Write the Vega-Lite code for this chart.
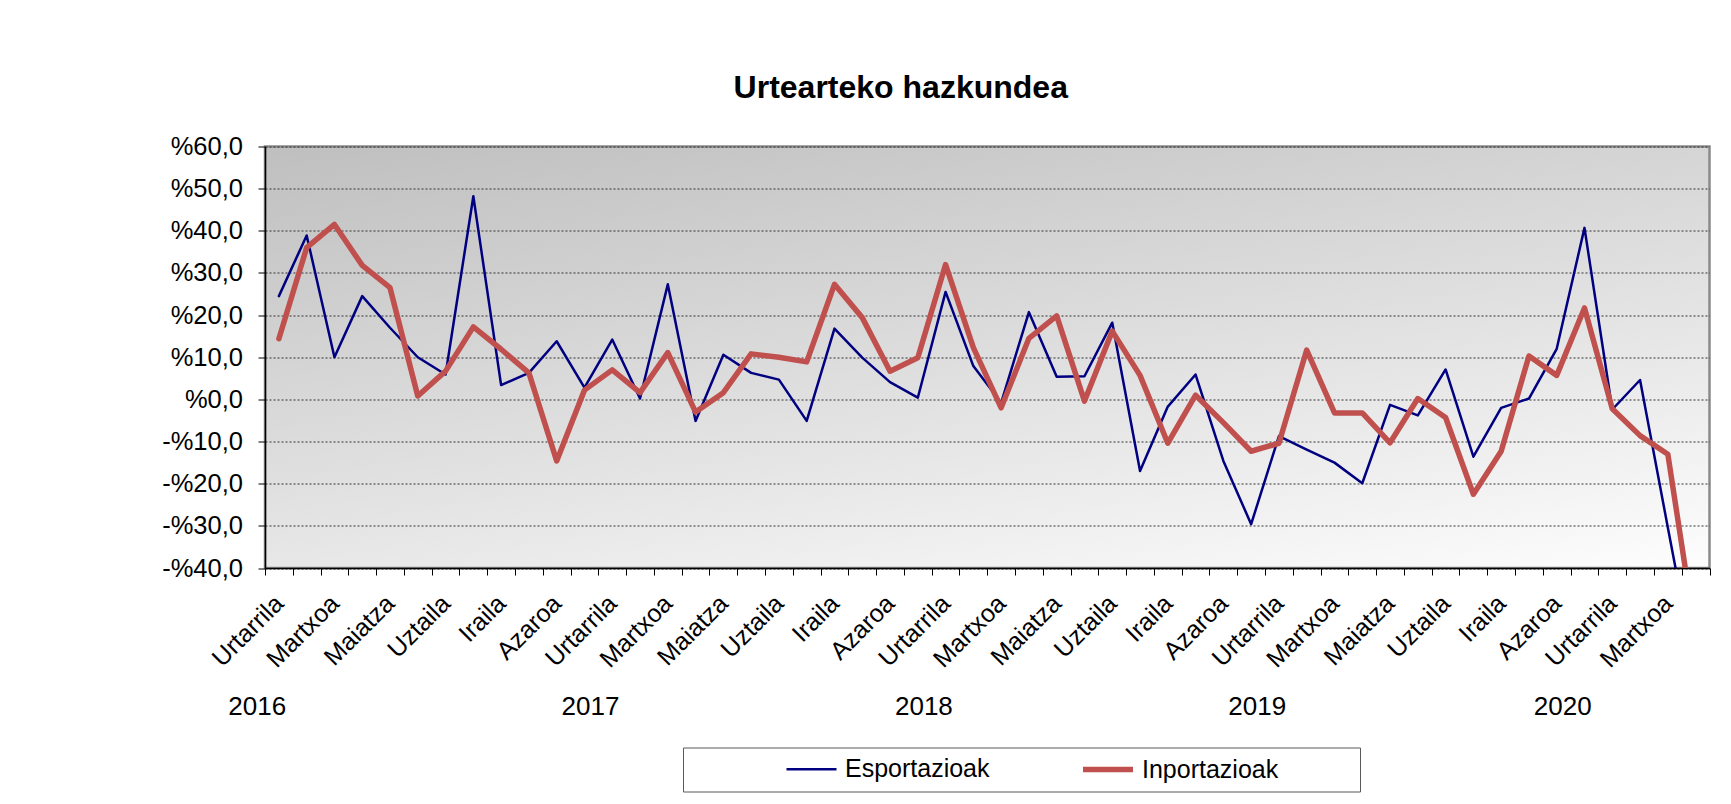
{
  "$schema": "https://vega.github.io/schema/vega-lite/v6.json",
  "width": 1444.5,
  "height": 421.5,
  "autosize": {"type": "none"},
  "padding": {"left": 265, "top": 146.5, "right": 21.5, "bottom": 236},
  "background": "white",
  "title": {
    "text": "Urtearteko hazkundea",
    "font": "Liberation Sans, Arial, sans-serif",
    "fontSize": 32,
    "fontWeight": "bold",
    "color": "black",
    "anchor": "middle",
    "frame": "group",
    "dx": -86.5,
    "offset": 30
  },
  "data": {
    "values": [
      {"m": "2016-01", "Esportazioak": 24.5, "Inportazioak": 14.4},
      {"m": "2016-02", "Esportazioak": 38.9, "Inportazioak": 36.0},
      {"m": "2016-03", "Esportazioak": 10.0, "Inportazioak": 41.5},
      {"m": "2016-04", "Esportazioak": 24.5, "Inportazioak": 31.8},
      {"m": "2016-05", "Esportazioak": 17.0, "Inportazioak": 26.5},
      {"m": "2016-06", "Esportazioak": 10.0, "Inportazioak": 0.8},
      {"m": "2016-07", "Esportazioak": 5.9, "Inportazioak": 6.7},
      {"m": "2016-08", "Esportazioak": 48.2, "Inportazioak": 17.2},
      {"m": "2016-09", "Esportazioak": 3.4, "Inportazioak": 11.9},
      {"m": "2016-10", "Esportazioak": 6.3, "Inportazioak": 6.3},
      {"m": "2016-11", "Esportazioak": 13.8, "Inportazioak": -14.6},
      {"m": "2016-12", "Esportazioak": 2.8, "Inportazioak": 2.2},
      {"m": "2017-01", "Esportazioak": 14.2, "Inportazioak": 7.0},
      {"m": "2017-02", "Esportazioak": 0.2, "Inportazioak": 1.6},
      {"m": "2017-03", "Esportazioak": 27.3, "Inportazioak": 11.1},
      {"m": "2017-04", "Esportazioak": -5.1, "Inportazioak": -3.0},
      {"m": "2017-05", "Esportazioak": 10.6, "Inportazioak": 1.6},
      {"m": "2017-06", "Esportazioak": 6.3, "Inportazioak": 10.8},
      {"m": "2017-07", "Esportazioak": 4.7, "Inportazioak": 10.0},
      {"m": "2017-08", "Esportazioak": -5.1, "Inportazioak": 8.9},
      {"m": "2017-09", "Esportazioak": 16.8, "Inportazioak": 27.3},
      {"m": "2017-10", "Esportazioak": 9.9, "Inportazioak": 19.4},
      {"m": "2017-11", "Esportazioak": 4.1, "Inportazioak": 6.7},
      {"m": "2017-12", "Esportazioak": 0.4, "Inportazioak": 9.9},
      {"m": "2018-01", "Esportazioak": 25.5, "Inportazioak": 32.0},
      {"m": "2018-02", "Esportazioak": 7.9, "Inportazioak": 12.3},
      {"m": "2018-03", "Esportazioak": -0.8, "Inportazioak": -2.0},
      {"m": "2018-04", "Esportazioak": 20.7, "Inportazioak": 14.5},
      {"m": "2018-05", "Esportazioak": 5.4, "Inportazioak": 19.8},
      {"m": "2018-06", "Esportazioak": 5.5, "Inportazioak": -0.4},
      {"m": "2018-07", "Esportazioak": 18.2, "Inportazioak": 16.2},
      {"m": "2018-08", "Esportazioak": -17.0, "Inportazioak": 5.7},
      {"m": "2018-09", "Esportazioak": -1.7, "Inportazioak": -10.4},
      {"m": "2018-10", "Esportazioak": 5.9, "Inportazioak": 1.0},
      {"m": "2018-11", "Esportazioak": -14.6, "Inportazioak": -5.5},
      {"m": "2018-12", "Esportazioak": -29.6, "Inportazioak": -12.3},
      {"m": "2019-01", "Esportazioak": -8.7, "Inportazioak": -10.4},
      {"m": "2019-02", "Esportazioak": -11.9, "Inportazioak": 11.7},
      {"m": "2019-03", "Esportazioak": -15.0, "Inportazioak": -3.2},
      {"m": "2019-04", "Esportazioak": -19.9, "Inportazioak": -3.2},
      {"m": "2019-05", "Esportazioak": -1.3, "Inportazioak": -10.3},
      {"m": "2019-06", "Esportazioak": -3.8, "Inportazioak": 0.2},
      {"m": "2019-07", "Esportazioak": 7.1, "Inportazioak": -4.3},
      {"m": "2019-08", "Esportazioak": -13.6, "Inportazioak": -22.5},
      {"m": "2019-09", "Esportazioak": -2.0, "Inportazioak": -12.3},
      {"m": "2019-10", "Esportazioak": 0.2, "Inportazioak": 10.3},
      {"m": "2019-11", "Esportazioak": 12.0, "Inportazioak": 5.7},
      {"m": "2019-12", "Esportazioak": 40.7, "Inportazioak": 21.7},
      {"m": "2020-01", "Esportazioak": -2.4, "Inportazioak": -2.2},
      {"m": "2020-02", "Esportazioak": 4.6, "Inportazioak": -8.6},
      {"m": "2020-03", "Esportazioak": -30.4, "Inportazioak": -13.0},
      {"m": "2020-04", "Esportazioak": -65.0, "Inportazioak": -56.0}
    ]
  },
  "transform": [
    {"fold": ["Esportazioak", "Inportazioak"], "as": ["series", "v"]}
  ],
  "encoding": {
    "y": {
      "field": "v",
      "type": "quantitative",
      "scale": {"domain": [-40, 60], "nice": false, "zero": false},
      "axis": {
        "title": null,
        "values": [-40, -30, -20, -10, 0, 10, 20, 30, 40, 50, 60],
        "labelExpr": "(datum.value < 0 ? '-' : '') + '%' + replace(format(abs(datum.value), '.1f'), '.', ',')",
        "labelFont": "Liberation Sans, Arial, sans-serif",
        "labelFontSize": 25.5,
        "labelColor": "black",
        "labelPadding": 15.5,
        "tickSize": 7,
        "tickColor": "black",
        "tickWidth": 1,
        "domainColor": "black",
        "domainWidth": 1.5,
        "grid": true,
        "gridColor": "#303030",
        "gridDash": [2, 2],
        "gridWidth": 1
      }
    },
    "color": {
      "field": "series",
      "type": "nominal",
      "scale": {"domain": ["Esportazioak", "Inportazioak"], "range": ["#000080", "#C0504D"]},
      "legend": {
        "title": " ",
        "labelExpr": "datum.label == 'Inportazioak' ? 'Inportazioak\u2800\u2800\u2800\u2800' : datum.label"
      }
    },
    "strokeWidth": {
      "field": "series",
      "type": "nominal",
      "scale": {"domain": ["Esportazioak", "Inportazioak"], "range": [2.5, 5.5]},
      "legend": {
        "title": " ",
        "labelExpr": "datum.label == 'Inportazioak' ? 'Inportazioak\u2800\u2800\u2800\u2800' : datum.label"
      }
    }
  },
  "layer": [
    {
      "transform": [{"filter": "datum.series == 'Esportazioak'"}],
      "mark": {"type": "line", "clip": true, "strokeJoin": "round", "strokeCap": "round"},
      "encoding": {
        "x": {
          "field": "m",
          "type": "ordinal",
          "axis": {
            "orient": "bottom",
            "title": null,
            "labelExpr": "['Urtarrila','','Martxoa','','Maiatza','','Uztaila','','Iraila','','Azaroa',''][toNumber(substring(datum.value, 5, 7)) - 1]",
            "labelAngle": -45,
            "labelAlign": "right",
            "labelBaseline": "middle",
            "labelPadding": 24,
            "labelFont": "Liberation Sans, Arial, sans-serif",
            "labelFontSize": 25,
            "labelColor": "black",
            "labelOverlap": false,
            "tickBand": "extent",
            "tickSize": 7,
            "tickColor": "black",
            "tickWidth": 1,
            "domainColor": "black",
            "domainWidth": 1.5,
            "grid": false
          }
        }
      }
    },
    {
      "transform": [{"filter": "datum.series == 'Inportazioak'"}],
      "mark": {"type": "line", "clip": true, "strokeJoin": "round", "strokeCap": "round"},
      "encoding": {
        "x": {
          "field": "m",
          "type": "ordinal",
          "axis": {
            "orient": "bottom",
            "title": null,
            "domain": false,
            "ticks": false,
            "grid": false,
            "labelExpr": "datum.value == '2016-01' ? '2016' : datum.value == '2017-01' ? '2017' : datum.value == '2018-01' ? '2018' : datum.value == '2019-01' ? '2019' : datum.value == '2019-12' ? '2020' : ''",
            "labelAngle": 0,
            "labelAlign": "center",
            "labelBaseline": "middle",
            "labelPadding": 138,
            "labelOffset": -21.7,
            "labelFont": "Liberation Sans, Arial, sans-serif",
            "labelFontSize": 26,
            "labelColor": "black",
            "labelOverlap": false
          }
        }
      }
    }
  ],
  "resolve": {"axis": {"x": "independent"}},
  "config": {
    "font": "Liberation Sans, Arial, sans-serif",
    "view": {
      "stroke": "#8a8a8a",
      "strokeWidth": 2.5,
      "fill": {
        "gradient": "linear",
        "x1": 0, "y1": 0, "x2": 0.64, "y2": 1.19,
        "stops": [
          {"offset": 0, "color": "#bfbfbf"},
          {"offset": 1, "color": "#fdfdfd"}
        ]
      }
    },
    "legend": {
      "orient": "none",
      "legendX": 418,
      "legendY": 601,
      "direction": "horizontal",
      "titleOrient": "left",
      "titleFontSize": 1,
      "titlePadding": 92,
      "fillColor": "white",
      "strokeColor": "#595959",
      "padding": 9,
      "symbolType": "M-1,0H4",
      "symbolSize": 400,
      "labelFont": "Liberation Sans, Arial, sans-serif",
      "labelFontSize": 25,
      "labelColor": "black",
      "labelOffset": 36,
      "labelLimit": 600,
      "columnPadding": 82
    }
  }
}
